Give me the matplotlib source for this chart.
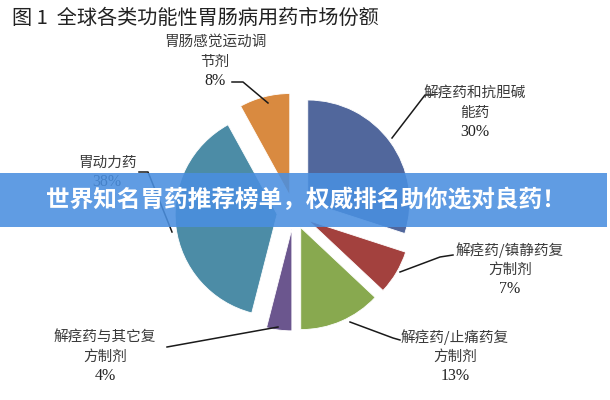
import matplotlib
matplotlib.use("Agg")
import matplotlib.pyplot as plt
from matplotlib.patches import Rectangle

plt.rcParams['font.family'] = ['Noto Sans CJK SC', 'DejaVu Sans']

title = "图 1  全球各类功能性胃肠病用药市场份额"
banner = "世界知名胃药推荐榜单，权威排名助你选对良药！"
categories = ["解痉药和抗胆碱\n能药", "解痉药/镇静药复\n方制剂", "解痉药/止痛药复\n方制剂",
              "解痉药与其它复\n方制剂", "胃动力药", "胃肠感觉运动调\n节剂"]
values = [30, 7, 13, 4, 38, 8]
colors = ["#51679c", "#a3413e", "#88a94f", "#6b568e", "#4c8ca6", "#d98a40"]

W, H = 610, 400
fig = plt.figure(figsize=(W / 100, H / 100), dpi=100)
ax = fig.add_axes([0, 0, 1, 1])

cx, cy, R = 294, H - 212, 102
ax.pie(values, colors=colors, startangle=90, counterclock=False,
       explode=[17] * len(values), center=(cx, cy), radius=R, frame=True,
       wedgeprops=dict(linewidth=0.6, edgecolor="white"))
ax.set_xlim(0, W)
ax.set_ylim(0, H)
ax.axis("off")

# label positions (text center x, top-line y), leader line points (pixel coords, y down)
label_pos = [(475, 93), (510, 250), (455, 337), (105, 337), (107, 163), (215, 42)]
leaders = [
    [(433, 95), (425, 95), (392, 138)],
    [(453, 255), (440, 257), (400, 272)],
    [(400, 340), (393, 338), (350, 322)],
    [(167, 347), (278, 327)],
    [(139, 172), (148, 172), (172, 232)],
    [(232, 82), (243, 82), (268, 103)],
]
line_gap = 19.5
for cat, v, (tx, ty), pts in zip(categories, values, label_pos, leaders):
    lines = cat.split("\n")
    for i, ln in enumerate(lines):
        ax.text(tx, H - (ty + i * line_gap), ln, ha="center", va="center",
                fontsize=10.5, color="#3a3a3a")
    ax.text(tx, H - (ty + len(lines) * line_gap), f"{v}%", ha="center", va="center",
            fontsize=11.5, color="#222222", family=["Liberation Serif", "DejaVu Serif"])
    xs = [p[0] for p in pts]
    ys = [H - p[1] for p in pts]
    ax.plot(xs, ys, color="#1a1a1a", lw=1.1)

ax.text(12, H - 18, title, ha="left", va="center", fontsize=14.5, color="#222222")

# banner
ax.add_patch(Rectangle((0, H - 227), 607, 54, facecolor="#4a8fe0", alpha=0.88,
                       edgecolor="none", zorder=5))
ax.text(306, H - 200, banner, ha="center", va="center", fontsize=17, color="white",
        fontweight="bold", zorder=6)

fig.savefig("out.png", dpi=100)
